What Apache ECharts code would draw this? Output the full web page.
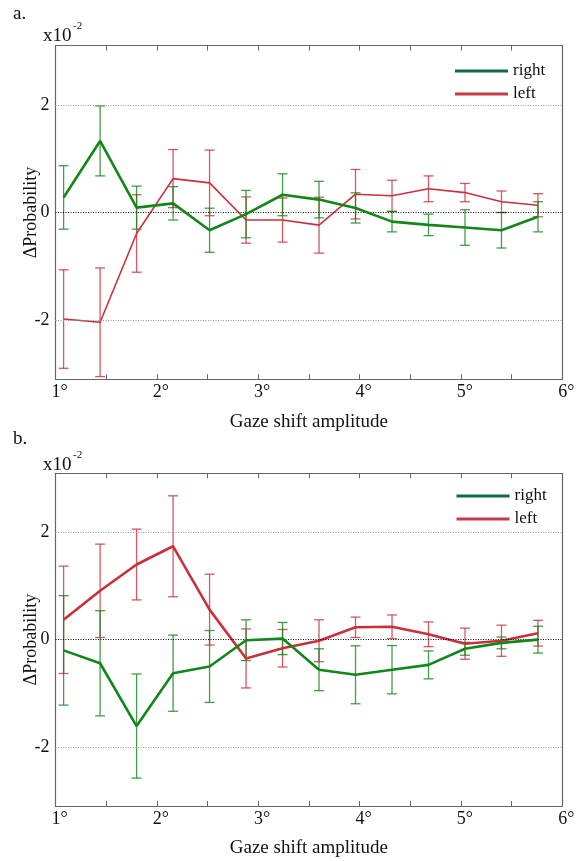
<!DOCTYPE html>
<html>
<head>
<meta charset="utf-8">
<script src="https://cdn.jsdelivr.net/npm/echarts@6/dist/echarts.min.js"></script>
<style>
html,body{margin:0;padding:0;background:#fff;}
#main{width:579px;height:861px;}
</style>
</head>
<body>
<div id="main"></div>
<script>
// ---- data ----
var amplitude = [1.08, 1.44, 1.80, 2.16, 2.52, 2.88, 3.24, 3.60, 3.96, 4.32, 4.68, 5.04, 5.40, 5.76];
var xTicks = [1, 2, 3, 4, 5, 6];
var yTicks = [-2, 0, 2];

var aRightMean = [0.28, 1.33, 0.09, 0.17, -0.33, -0.03, 0.33, 0.24, 0.085, -0.17, -0.23, -0.28, -0.33, -0.08];
var aRightErr  = [0.59, 0.65, 0.40, 0.31, 0.41, 0.44, 0.39, 0.34, 0.28, 0.19, 0.20, 0.33, 0.33, 0.28];
var aLeftMean  = [-1.98, -2.04, -0.39, 0.63, 0.55, -0.14, -0.14, -0.235, 0.34, 0.31, 0.44, 0.37, 0.20, 0.135];
var aLeftErr   = [0.915, 1.01, 0.72, 0.54, 0.61, 0.43, 0.41, 0.52, 0.46, 0.29, 0.24, 0.17, 0.20, 0.215];

var bRightMean = [-0.20, -0.44, -1.61, -0.625, -0.50, -0.01, 0.02, -0.56, -0.655, -0.56, -0.47, -0.17, -0.06, 0.0];
var bRightErr  = [1.02, 0.98, 0.97, 0.71, 0.67, 0.38, 0.30, 0.39, 0.54, 0.45, 0.26, 0.12, 0.11, 0.25];
var bLeftMean  = [0.37, 0.91, 1.40, 1.74, 0.56, -0.35, -0.16, -0.02, 0.23, 0.24, 0.10, -0.075, -0.02, 0.12];
var bLeftErr   = [1.0, 0.87, 0.66, 0.94, 0.66, 0.55, 0.35, 0.39, 0.19, 0.22, 0.23, 0.29, 0.29, 0.24];

// ---- styling ----
var GREEN = '#13861a';
var RED = '#c9303b';
var LEG_GREEN = '#0c6e3c';
var LEG_RED = '#c83a45';
var FRAME = '#666';
var FONT = '"Liberation Serif", "Times New Roman", serif';
var YMIN = -3.1, YMAX = 3.1;

function pairs(xs, ys) { return xs.map(function (x, i) { return [x, ys[i]]; }); }
function errs(xs, m, e) { return xs.map(function (x, i) { return [x, m[i] - e[i], m[i] + e[i]]; }); }

function errRenderer(color) {
  return function (params, api) {
    var x = api.value(0), lo = api.value(1), hi = api.value(2);
    var p1 = api.coord([x, hi]);
    var p2 = api.coord([x, lo]);
    var w = 5;
    var st = { stroke: color, lineWidth: 1.3, opacity: 0.8 };
    return {
      type: 'group',
      children: [
        { type: 'line', shape: { x1: p1[0], y1: p1[1], x2: p2[0], y2: p2[1] }, style: st },
        { type: 'line', shape: { x1: p1[0] - w, y1: p1[1], x2: p1[0] + w, y2: p1[1] }, style: st },
        { type: 'line', shape: { x1: p2[0] - w, y1: p2[1], x2: p2[0] + w, y2: p2[1] }, style: st }
      ]
    };
  };
}

function bottomX(gi) {
  return {
    type: 'value', gridIndex: gi, position: 'bottom', min: 1, max: 6, interval: 0.5,
    name: 'Gaze shift amplitude', nameLocation: 'middle', nameGap: 33,
    nameTextStyle: { fontFamily: FONT, fontSize: 19, color: '#111' },
    axisLine: { show: true, onZero: false, lineStyle: { color: FRAME, width: 1.2 } },
    axisTick: { show: true, inside: true, length: 5, lineStyle: { color: FRAME } },
    axisLabel: {
      show: true, margin: 4,
      formatter: function (v) { return xTicks.indexOf(v) >= 0 ? '{v|' + v + '°}' : ''; },
      rich: { v: { fontFamily: FONT, fontSize: 18, color: '#111', padding: [0, 0, 0, 8] } }
    },
    splitLine: { show: false }
  };
}
function topX(gi) {
  return {
    type: 'value', gridIndex: gi, position: 'top', min: 1, max: 6, interval: 0.5,
    axisLine: { show: true, onZero: false, lineStyle: { color: FRAME, width: 1.2 } },
    axisTick: { show: true, inside: true, length: 5, lineStyle: { color: FRAME } },
    axisLabel: { show: false }, splitLine: { show: false }
  };
}
function leftY(gi) {
  return {
    type: 'value', gridIndex: gi, position: 'left', min: YMIN, max: YMAX,
    name: 'ΔProbability', nameLocation: 'middle', nameGap: 15, nameMoveOverlap: false,
    nameTextStyle: { fontFamily: FONT, fontSize: 18, color: '#111' },
    axisLine: { show: true, onZero: false, lineStyle: { color: FRAME, width: 1.2 } },
    axisTick: { show: false },
    axisLabel: { show: true, margin: 6, customValues: yTicks, fontFamily: FONT, fontSize: 18, color: '#111' },
    splitLine: { show: false }
  };
}
function rightY(gi) {
  return {
    type: 'value', gridIndex: gi, position: 'right', min: YMIN, max: YMAX,
    axisLine: { show: true, onZero: false, lineStyle: { color: FRAME, width: 1.2 } },
    axisTick: { show: false }, axisLabel: { show: false }, splitLine: { show: false }
  };
}

var refLines = {
  silent: true, symbol: 'none', label: { show: false }, animation: false,
  data: [
    { yAxis: 2, lineStyle: { color: '#999', type: [1, 1.5], width: 1 } },
    { yAxis: -2, lineStyle: { color: '#999', type: [1, 1.5], width: 1 } },
    { yAxis: 0, lineStyle: { color: '#000', type: [1, 1.5], width: 1.2 } }
  ]
};

function panelSeries(axisIdx, rMean, rErr, lMean, lErr, redWidth) {
  return [
    { name: 'left', type: 'custom', xAxisIndex: axisIdx, yAxisIndex: axisIdx,
      renderItem: errRenderer(RED), encode: { x: 0, y: [1, 2] },
      data: errs(amplitude, lMean, lErr), z: 3 },
    { name: 'right', type: 'custom', xAxisIndex: axisIdx, yAxisIndex: axisIdx,
      renderItem: errRenderer(GREEN), encode: { x: 0, y: [1, 2] },
      data: errs(amplitude, rMean, rErr), z: 3 },
    { name: 'left', type: 'line', xAxisIndex: axisIdx, yAxisIndex: axisIdx,
      data: pairs(amplitude, lMean), symbol: 'none',
      lineStyle: { color: RED, width: redWidth }, itemStyle: { color: RED }, z: 4,
      markLine: refLines },
    { name: 'right', type: 'line', xAxisIndex: axisIdx, yAxisIndex: axisIdx,
      data: pairs(amplitude, rMean), symbol: 'none',
      lineStyle: { color: GREEN, width: 2.6 }, itemStyle: { color: GREEN }, z: 5 }
  ];
}

function legendAt(left, top) {
  return {
    left: left, top: top, orient: 'vertical', itemWidth: 53, itemHeight: 3, itemGap: 3,
    icon: 'rect', selectedMode: false,
    textStyle: { fontFamily: FONT, fontSize: 17, color: '#111', lineHeight: 20 },
    data: [
      { name: 'right', itemStyle: { color: LEG_GREEN } },
      { name: 'left', itemStyle: { color: LEG_RED } }
    ]
  };
}

function headText(label, yLab, yX10) {
  return [
    { type: 'text', left: 13, top: yLab, style: { text: label, font: '19px ' + FONT, fill: '#111' } },
    { type: 'text', left: 43, top: yX10, style: { text: 'x10', font: '19px ' + FONT, fill: '#111' } },
    { type: 'text', left: 73, top: yX10 - 6, style: { text: '-2', font: '11px ' + FONT, fill: '#111' } }
  ];
}

var chart = echarts.init(document.getElementById('main'), null, { renderer: 'canvas' });
chart.setOption({
  animation: false,
  backgroundColor: '#fff',
  grid: [
    { left: 55.5, top: 45.7, width: 506.8, height: 333.6 },
    { left: 55.5, top: 473.3, width: 506.8, height: 332.7 }
  ],
  xAxis: [bottomX(0), topX(0), bottomX(1), topX(1)],
  yAxis: [leftY(0), rightY(0), leftY(1), rightY(1)],
  legend: [legendAt(450, 56), legendAt(451.5, 481)],
  graphic: headText('a.', 5, 27).concat(headText('b.', 430, 456)),
  series: []
    .concat(panelSeries(0, aRightMean, aRightErr, aLeftMean, aLeftErr, 1.6))
    .concat(panelSeries(2, bRightMean, bRightErr, bLeftMean, bLeftErr, 2.6))
});
</script>
</body>
</html>
